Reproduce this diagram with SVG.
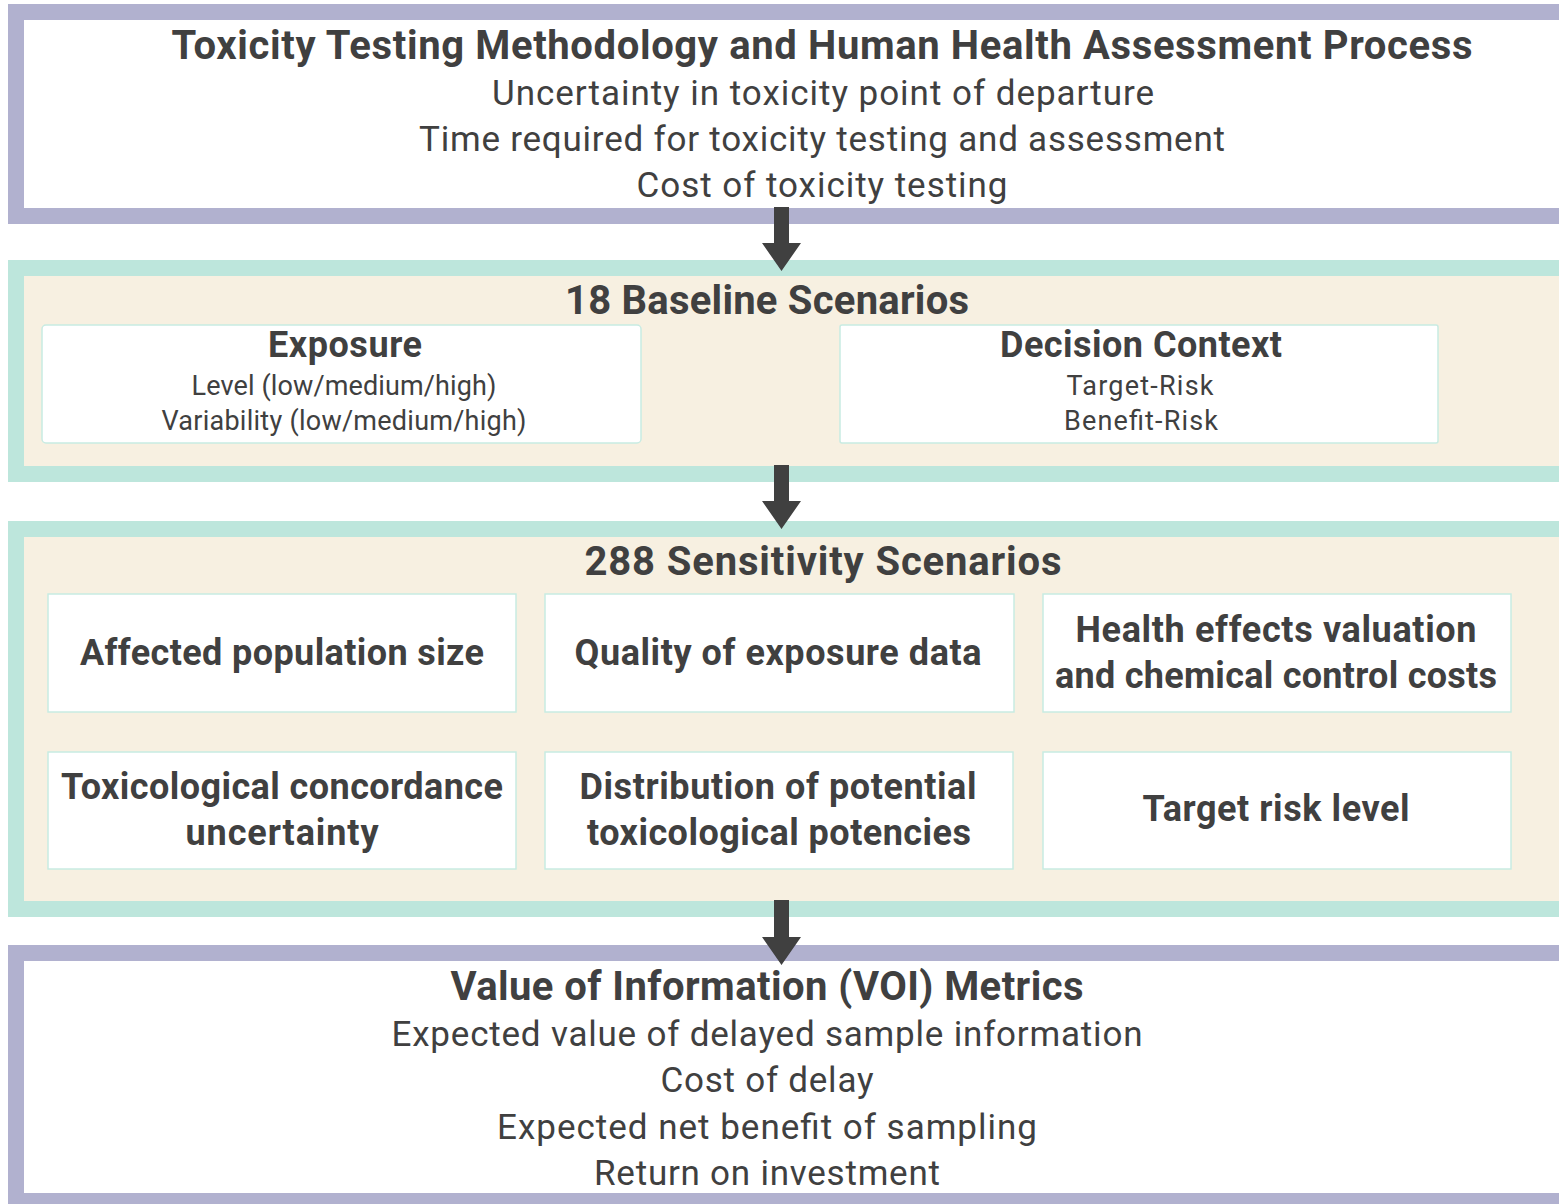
<svg xmlns="http://www.w3.org/2000/svg" width="1559" height="1204" viewBox="0 0 1559 1204">
<style>
text{font-family:Roboto,"Liberation Sans",sans-serif;fill:#404040;text-anchor:middle}
.h{font-weight:bold;font-size:40px}
.hs{font-weight:bold;font-size:36px}
.r{font-size:35px}
.s{font-size:27px}
.pur{fill:#ffffff;stroke:#b1b1cf;stroke-width:16}
.grn{fill:#f7f0e1;stroke:#bde6dc;stroke-width:16}
.box{fill:#ffffff;stroke:#c8ebe2;stroke-width:1.5}
.arr{fill:#404040}
</style>
<rect width="1559" height="1204" fill="#ffffff"/>
<g id="toxicity">
<rect class="pur" x="16" y="12" width="1560" height="204"/>
<text class="h" x="822" y="59" textLength="1301">Toxicity Testing Methodology and Human Health Assessment Process</text>
<text class="r" x="823" y="105" textLength="662">Uncertainty in toxicity point of departure</text>
<text class="r" x="822" y="151" textLength="806">Time required for toxicity testing and assessment</text>
<text class="r" x="822" y="197" textLength="371">Cost of toxicity testing</text>
</g>
<g id="baseline">
<rect class="grn" x="16" y="268" width="1560" height="206"/>
<text class="h" x="767" y="314" textLength="404">18 Baseline Scenarios</text>
</g>
<g id="exposure">
<rect class="box" x="42" y="325" width="599" height="118" rx="4"/>
<text class="hs" x="345" y="357" textLength="154">Exposure</text>
<text class="s" x="344" y="395" textLength="305">Level (low/medium/high)</text>
<text class="s" x="344" y="430" textLength="365">Variability (low/medium/high)</text>
</g>
<g id="decision">
<rect class="box" x="840" y="325" width="598" height="118" rx="2"/>
<text class="hs" x="1141" y="357" textLength="282">Decision Context</text>
<text class="s" x="1140" y="395" textLength="147">Target-Risk</text>
<text class="s" x="1141" y="430" textLength="154">Benefit-Risk</text>
</g>
<g id="sensitivity">
<rect class="grn" x="16" y="529" width="1560" height="380"/>
<text class="h" x="823" y="575" textLength="477">288 Sensitivity Scenarios</text>
</g>
<g id="population">
<rect class="box" x="48" y="594" width="468" height="118"/>
<text class="hs" x="282" y="665" textLength="404">Affected population size</text>
</g>
<g id="quality">
<rect class="box" x="545" y="594" width="469" height="118"/>
<text class="hs" x="778" y="665" textLength="407">Quality of exposure data</text>
</g>
<g id="health">
<rect class="box" x="1043" y="594" width="468" height="118"/>
<text class="hs" x="1276" y="642" textLength="401">Health effects valuation</text>
<text class="hs" x="1276" y="688" textLength="442">and chemical control costs</text>
</g>
<g id="concordance">
<rect class="box" x="48" y="752" width="468" height="117"/>
<text class="hs" x="282" y="799" textLength="442">Toxicological concordance</text>
<text class="hs" x="282" y="845" textLength="193">uncertainty</text>
</g>
<g id="distribution">
<rect class="box" x="545" y="752" width="468" height="117"/>
<text class="hs" x="778" y="799" textLength="397">Distribution of potential</text>
<text class="hs" x="779" y="845" textLength="384">toxicological potencies</text>
</g>
<g id="target">
<rect class="box" x="1043" y="752" width="468" height="117"/>
<text class="hs" x="1276" y="821" textLength="267">Target risk level</text>
</g>
<g id="voi">
<rect class="pur" x="16" y="953" width="1560" height="248"/>
<text class="h" x="767" y="1000" textLength="633">Value of Information (VOI) Metrics</text>
<text class="r" x="767" y="1046" textLength="751">Expected value of delayed sample information</text>
<text class="r" x="767" y="1092" textLength="213">Cost of delay</text>
<text class="r" x="767" y="1139" textLength="540">Expected net benefit of sampling</text>
<text class="r" x="767" y="1185" textLength="346">Return on investment</text>
</g>
<g id="connectors">
<path class="arr" d="M774,207 H789 V243 H801 L781.5,271 L762,243 H774 Z"/>
<path class="arr" d="M774,465 H789 V501 H801 L781.5,529 L762,501 H774 Z"/>
<path class="arr" d="M774,900 H789 V937 H801 L781.5,965 L762,937 H774 Z"/>
</g>
</svg>
